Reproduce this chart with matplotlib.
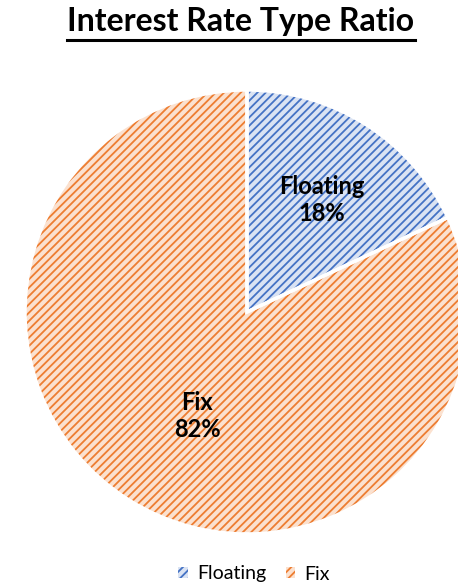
import matplotlib

matplotlib.use("Agg")
import matplotlib.pyplot as plt
from matplotlib.lines import Line2D
from matplotlib.patches import Patch

# rate-type split of the portfolio
labels = ["Floating", "Fix"]
shares = [18, 82]

FILL = ["#dae3f3", "#fbe1cf"]
HATCH = ["#4472c4", "#ed7d31"]
FONT = ["Lato", "DejaVu Sans"]

plt.rcParams["font.family"] = FONT
plt.rcParams["hatch.linewidth"] = 1.3

W, H, R = 458, 587, 222.0          # figure size in px, pie radius in px
CX, CY = 247, 312                  # pie centre in px (from top-left)

fig = plt.figure(figsize=(W / 100, H / 100), dpi=100)
ax = fig.add_axes([0, 0, 1, 1])

# base fill
ax.pie(shares, colors=FILL, startangle=90, counterclock=False,
       wedgeprops=dict(linewidth=0), frame=True)
# hatch layer
wedges, _ = ax.pie(shares, colors=["none"] * 2, startangle=90, counterclock=False,
                   frame=True)
for w, hc in zip(wedges, HATCH):
    w.set_hatch("////")
    w.set_edgecolor(hc)
    w.set_linewidth(0)
# white separators on top
ax.pie(shares, colors=["none"] * 2, startangle=90, counterclock=False,
       wedgeprops=dict(edgecolor="white", linewidth=2.5), frame=True)
ax.set_xlim(-CX / R, (W - CX) / R)
ax.set_ylim(-(H - CY) / R, CY / R)
ax.axis("off")

# slice labels
ax.text((322 - CX) / R, (CY - 200) / R, f"{labels[0]}\n{shares[0]}%", ha="center",
        va="center", fontsize=17, fontweight="bold", linespacing=1.2)
ax.text((197 - CX) / R, (CY - 416) / R, f"{labels[1]}\n{shares[1]}%", ha="center",
        va="center", fontsize=17, fontweight="bold", linespacing=1.2)

# underlined title
title = fig.text(241 / W, 1 - 21 / H, "Interest Rate Type Ratio", ha="center", va="center",
                 fontsize=23, fontweight="bold")
fig.canvas.draw()
bb = title.get_window_extent().transformed(fig.transFigure.inverted())
fig.add_artist(Line2D([bb.x0, bb.x1], [1 - 40 / H] * 2, transform=fig.transFigure,
                      color="black", lw=2.2))

handles = [Patch(facecolor=f, edgecolor=h, hatch="////", linewidth=0, label=l)
           for f, h, l in zip(FILL, HATCH, labels)]
fig.legend(handles=handles, loc="center", bbox_to_anchor=(254 / W, 1 - 574 / H), ncol=2,
           frameon=False, fontsize=14, handlelength=0.5, handleheight=0.5,
           handletextpad=0.45, columnspacing=1.0)

fig.savefig("out.png", dpi=100)
